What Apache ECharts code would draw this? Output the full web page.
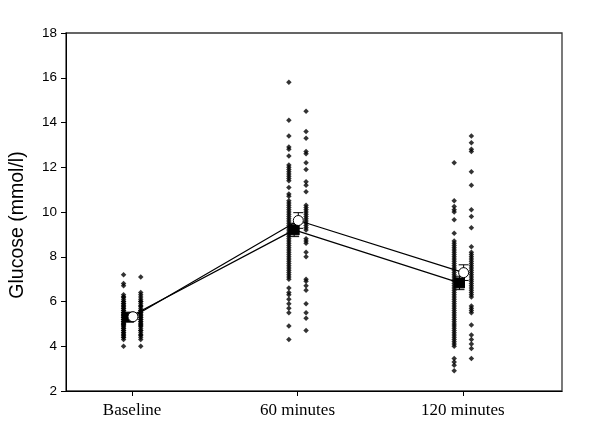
<!DOCTYPE html>
<html>
<head>
<meta charset="utf-8">
<script src="https://cdn.jsdelivr.net/npm/echarts@6/dist/echarts.min.js"></script>
<style>html,body{margin:0;padding:0;background:#fff;}#c{width:600px;height:438px;}</style>
</head>
<body>
<div id="c"></div>
<script>
var categories = ['Baseline', '60 minutes', '120 minutes'];
var yTicks = [2, 4, 6, 8, 10, 12, 14, 16, 18];

// individual values, group A (left column) and group B (right column)
var baselineA = [7.2, 6.8, 6.7, 6.3, 6.2, 6.2, 6.1, 6.0, 6.0, 5.9, 5.9, 5.8, 5.8, 5.7, 5.7, 5.6, 5.6, 5.5, 5.5, 5.5, 5.4, 5.4, 5.4, 5.3, 5.3, 5.3, 5.2, 5.2, 5.2, 5.1, 5.1, 5.1, 5.0, 5.0, 5.0, 4.9, 4.9, 4.8, 4.8, 4.7, 4.7, 4.6, 4.6, 4.5, 4.5, 4.4, 4.4, 4.3, 4.0];
var baselineB = [7.1, 6.4, 6.3, 6.2, 6.1, 6.0, 6.0, 5.9, 5.8, 5.8, 5.7, 5.6, 5.6, 5.5, 5.5, 5.4, 5.4, 5.3, 5.3, 5.2, 5.2, 5.1, 5.1, 5.0, 5.0, 4.9, 4.9, 4.8, 4.7, 4.7, 4.6, 4.5, 4.5, 4.4, 4.3, 4.0];
var min60A = [15.8, 14.1, 13.4, 12.9, 12.8, 12.5, 12.1, 12.0, 11.9, 11.8, 11.7, 11.6, 11.5, 11.4, 11.1, 10.8, 10.7, 10.5, 10.4, 10.3, 10.2, 10.1, 10.0, 9.9, 9.8, 9.7, 9.6, 9.5, 9.4, 9.3, 9.2, 9.1, 9.0, 8.9, 8.8, 8.7, 8.6, 8.5, 8.4, 8.3, 8.2, 8.1, 8.0, 7.9, 7.8, 7.7, 7.6, 7.5, 7.4, 7.3, 7.2, 7.1, 7.0, 6.6, 6.4, 6.3, 6.1, 5.9, 5.7, 5.5, 4.9, 4.3];
var min60B = [14.5, 13.6, 13.3, 12.7, 12.6, 12.2, 11.9, 11.35, 11.2, 10.9, 10.3, 10.2, 10.1, 10.0, 9.9, 9.8, 9.7, 9.6, 9.5, 9.4, 9.3, 9.2, 8.8, 8.7, 8.6, 8.2, 8.0, 7.0, 6.9, 6.7, 6.5, 5.9, 5.5, 5.25, 4.7];
var min120A = [12.2, 10.5, 10.25, 10.1, 10.0, 9.65, 9.05, 8.7, 8.6, 8.5, 8.4, 8.3, 8.2, 8.1, 8.0, 7.9, 7.8, 7.7, 7.6, 7.5, 7.4, 7.3, 7.2, 7.1, 7.0, 6.9, 6.8, 6.7, 6.6, 6.5, 6.4, 6.3, 6.2, 6.1, 6.0, 5.9, 5.8, 5.7, 5.6, 5.5, 5.4, 5.3, 5.2, 5.1, 5.0, 4.9, 4.8, 4.7, 4.6, 4.5, 4.4, 4.3, 4.2, 4.1, 4.0, 3.45, 3.3, 3.15, 2.9];
var min120B = [13.4, 13.1, 12.8, 12.7, 11.8, 11.2, 10.1, 9.8, 9.3, 8.45, 8.2, 8.1, 8.0, 7.9, 7.8, 7.7, 7.6, 7.5, 7.4, 7.3, 7.2, 7.1, 7.0, 6.9, 6.8, 6.7, 6.6, 6.5, 6.4, 6.3, 6.2, 5.8, 5.7, 5.6, 5.5, 4.95, 4.5, 4.3, 4.1, 3.9, 3.45];

// group means and standard errors
var meanCircle = [5.32, 9.62, 7.29];
var errCircle = [0.1, 0.35, 0.35];
var meanSquare = [5.3, 9.2, 6.83];
var errSquare = [0.1, 0.3, 0.3];

var groupsA = [baselineA, min60A, min120A];
var groupsB = [baselineB, min60B, min120B];

function pts(groups, off) {
  var out = [];
  groups.forEach(function (g, i) { g.forEach(function (v) { out.push([i + off, v]); }); });
  return out;
}
function meanPts(arr, off) { return arr.map(function (v, i) { return [i + off, v]; }); }
function errPts(m, e, off) { return m.map(function (v, i) { return [i + off, v - e[i], v + e[i]]; }); }

function errItem(params, api) {
  var x = api.value(0);
  var lo = api.coord([x, api.value(1)]);
  var hi = api.coord([x, api.value(2)]);
  var w = 5;
  var st = { stroke: '#000', lineWidth: 1 };
  return {
    type: 'group',
    children: [
      { type: 'line', shape: { x1: hi[0], y1: hi[1], x2: lo[0], y2: lo[1] }, style: st },
      { type: 'line', shape: { x1: hi[0] - w, y1: hi[1], x2: hi[0] + w, y2: hi[1] }, style: st },
      { type: 'line', shape: { x1: lo[0] - w, y1: lo[1], x2: lo[0] + w, y2: lo[1] }, style: st }
    ]
  };
}

var chart = echarts.init(document.getElementById('c'), null, { renderer: 'canvas' });
chart.setOption({
  animation: false,
  backgroundColor: '#fff',
  grid: { left: 66, right: 38, top: 33, bottom: 47, show: true, borderColor: '#333', borderWidth: 1.3, backgroundColor: 'transparent' },
  xAxis: {
    type: 'value', min: -0.4, max: 2.6,
    axisLine: { onZero: false, lineStyle: { color: '#000', width: 1 } },
    splitLine: { show: false },
    axisTick: { show: true, length: 5, inside: false, customValues: [0, 1, 2], lineStyle: { color: '#000' } },
    axisLabel: {
      customValues: [0, 1, 2], margin: 11,
      fontFamily: 'Liberation Serif', fontSize: 17, color: '#000',
      formatter: function (v) { return categories[Math.round(v)]; }
    }
  },
  yAxis: {
    type: 'value', min: yTicks[0], max: yTicks[yTicks.length - 1], interval: 2,
    name: 'Glucose (mmol/l)', nameLocation: 'middle', nameGap: 38,
    nameTextStyle: { fontFamily: 'Liberation Sans', fontSize: 19.5, color: '#000', padding: [0, 26, 0, 0] },
    axisLine: { show: true, onZero: false, lineStyle: { color: '#000', width: 1 } },
    splitLine: { show: false },
    axisTick: { show: true, length: 5, lineStyle: { color: '#000' } },
    axisLabel: { fontFamily: 'Liberation Sans', fontSize: 13.5, color: '#000', margin: 9 }
  },
  series: [
    { type: 'scatter', data: pts(groupsA, -0.052), symbol: 'diamond', symbolSize: 5.5, itemStyle: { color: '#000' }, z: 2 },
    { type: 'scatter', data: pts(groupsB, 0.052), symbol: 'diamond', symbolSize: 5.5, itemStyle: { color: '#000' }, z: 2 },
    { type: 'custom', data: errPts(meanSquare, errSquare, -0.02), renderItem: errItem, z: 3 },
    { type: 'line', data: meanPts(meanSquare, -0.02), symbol: 'rect', symbolSize: 10, showSymbol: true,
      lineStyle: { color: '#000', width: 1.2 }, itemStyle: { color: '#000', borderColor: '#000' }, z: 4 },
    { type: 'custom', data: errPts(meanCircle, errCircle, 0.005), renderItem: errItem, z: 5 },
    { type: 'line', data: meanPts(meanCircle, 0.005), symbol: 'circle', symbolSize: 10, showSymbol: true,
      lineStyle: { color: '#000', width: 1.2 }, itemStyle: { color: '#fff', borderColor: '#000', borderWidth: 1 }, z: 6 }
  ]
});
</script>
</body>
</html>
